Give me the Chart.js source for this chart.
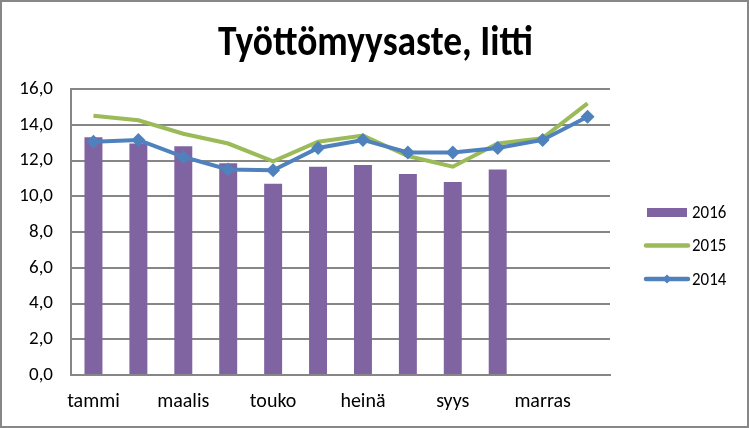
<!DOCTYPE html>
<html>
<head>
<meta charset="utf-8">
<script src="https://cdn.jsdelivr.net/npm/chart.js@4/dist/chart.umd.min.js"></script>
<style>
  html, body { margin: 0; padding: 0; background: #fff; }
  #wrap { width: 749px; height: 428px; }
</style>
</head>
<body>
<div id="wrap"><canvas id="chart" width="749" height="428"></canvas></div>
<script>
// months (Finnish), every other label is shown on the axis
const months = ['tammi', 'helmi', 'maalis', 'huhti', 'touko', 'kesä',
  'heinä', 'elo', 'syys', 'loka', 'marras', 'joulu'];

// unemployment rate, %
const rate2016 = [13.3, 12.95, 12.8, 11.85, 10.7, 11.65, 11.75, 11.25, 10.8, 11.5, null, null];
const rate2015 = [14.5, 14.25, 13.5, 12.95, 11.95, 13.05, 13.4, 12.25, 11.65, 12.95, 13.25, 15.2];
const rate2014 = [13.05, 13.15, 12.2, 11.5, 11.45, 12.7, 13.15, 12.45, 12.45, 12.7, 13.15, 14.45];

const yTicks = [0, 2, 4, 6, 8, 10, 12, 14, 16];

const chartTitle = 'Työttömyysaste, Iitti';

const FONT = 'Carlito, "Liberation Sans Narrow", "Open Sans", sans-serif';
const GRID = '#868686';

// title, legend and frame are drawn by hand, the picture is a bit narrow
const decorations = {
  id: 'decorations',
  afterDraw (chart) {
    const ctx = chart.ctx;
    ctx.save();

    // title, squeezed horizontally
    ctx.font = 'bold 42px ' + FONT;
    ctx.fillStyle = '#000';
    ctx.textBaseline = 'alphabetic';
    ctx.textAlign = 'center';
    const w = ctx.measureText(chartTitle).width;
    ctx.save();
    ctx.translate(375.5, 55);
    ctx.scale(315 / w, 1);
    ctx.fillText(chartTitle, 0, 0);
    ctx.restore();

    // legend
    ctx.textAlign = 'left';
    ctx.textBaseline = 'middle';
    ctx.font = '19px ' + FONT;
    chart.data.datasets.forEach((ds, i) => {
      const y = 212 + i * 33.5;
      const x0 = 647, x1 = 687;
      if (ds.type === 'bar') {
        ctx.fillStyle = ds.backgroundColor;
        ctx.fillRect(x0, y - 4, x1 - x0, 9);
      } else {
        ctx.strokeStyle = ds.borderColor;
        ctx.lineWidth = 4.5;
        ctx.lineCap = 'round';
        ctx.beginPath();
        ctx.moveTo(x0 - 1, y);
        ctx.lineTo(x1 + 1, y);
        ctx.stroke();
        if (ds.pointRadius) {
          ctx.fillStyle = ds.borderColor;
          ctx.beginPath();
          ctx.moveTo(667, y - 4.5);
          ctx.lineTo(671.5, y);
          ctx.lineTo(667, y + 4.5);
          ctx.lineTo(662.5, y);
          ctx.closePath();
          ctx.fill();
        }
      }
      ctx.fillStyle = '#000';
      ctx.save();
      ctx.translate(692, y + 1);
      ctx.scale(0.89, 1);
      ctx.fillText(ds.label, 0, 0);
      ctx.restore();
    });

    // outer frame
    ctx.strokeStyle = '#878787';
    ctx.lineWidth = 2;
    ctx.strokeRect(1, 1, chart.width - 2, chart.height - 2);
    ctx.restore();
  }
};

new Chart(document.getElementById('chart'), {
  type: 'bar',
  data: {
    labels: months,
    datasets: [
      {
        type: 'bar',
        label: '2016',
        data: rate2016,
        backgroundColor: '#8064A2',
        categoryPercentage: 1,
        barPercentage: 0.4,
        order: 3
      },
      {
        type: 'line',
        label: '2015',
        data: rate2015,
        borderColor: '#9BBB59',
        backgroundColor: '#9BBB59',
        borderWidth: 4,
        pointRadius: 0,
        tension: 0,
        order: 2
      },
      {
        type: 'line',
        label: '2014',
        data: rate2014,
        borderColor: '#4F81BD',
        backgroundColor: '#4F81BD',
        borderWidth: 4,
        pointStyle: 'rectRot',
        pointRadius: 7,
        pointBorderWidth: 0,
        tension: 0,
        order: 1
      }
    ]
  },
  options: {
    responsive: false,
    animation: false,
    layout: { padding: { left: 0, right: 139, top: 89, bottom: 0 } },
    plugins: {
      legend: { display: false },
      tooltip: { enabled: false },
      title: { display: false }
    },
    scales: {
      x: {
        grid: { display: false },
        border: { display: true, color: GRID, width: 2 },
        ticks: {
          autoSkip: false,
          maxRotation: 0,
          padding: 7,
          color: '#000',
          font: { family: FONT, size: 20 },
          callback: (v, i) => (i % 2 === 0 ? months[i] : '')
        },
        afterFit: s => { s.height = 53; }
      },
      y: {
        min: 0,
        max: 16,
        afterBuildTicks: s => { s.ticks = yTicks.map(v => ({ value: v })); },
        grid: { color: GRID, lineWidth: 2, drawTicks: false },
        border: { display: true, color: GRID, width: 2 },
        ticks: {
          padding: 18,
          color: '#000',
          font: { family: FONT, size: 19 },
          callback: v => v.toFixed(1).replace('.', ',')
        },
        afterFit: s => { s.width = 71; }
      }
    }
  },
  plugins: [decorations]
});
</script>
</body>
</html>
